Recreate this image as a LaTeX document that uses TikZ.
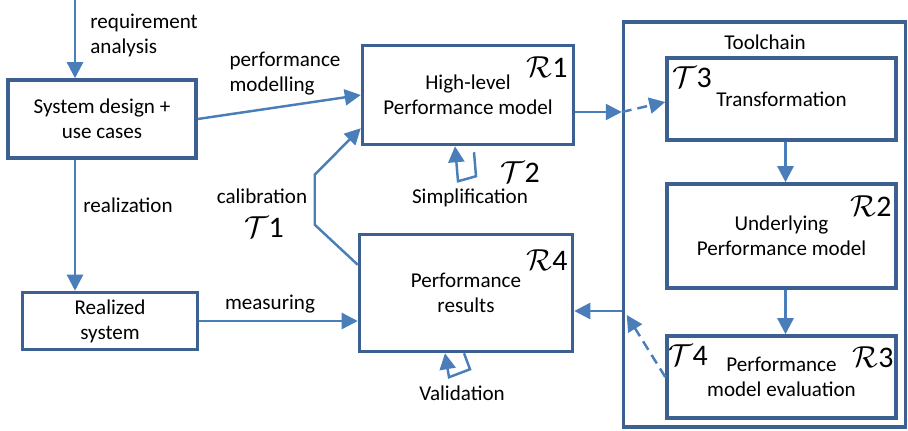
\documentclass[tikz,border=0pt]{standalone}
\usepackage{fontspec}
\setmainfont{Carlito}
\usetikzlibrary{arrows.meta}
\definecolor{boxblue}{RGB}{60,97,145}
\definecolor{lineblue}{RGB}{74,126,187}
\tikzstyle{block} = [rectangle, draw=boxblue, line width=2pt, align=center, text centered, inner sep=0pt]
\tikzstyle{arrow} = [draw=lineblue, line width=1.4pt, -{Triangle[length=3.2mm,width=3.2mm,fill=lineblue]}]
\tikzstyle{dasharrow} = [arrow, dash pattern=on 2mm off 1.2mm]
\tikzstyle{tag} = [font=\fontsize{17}{20}\selectfont, inner sep=0pt]
\tikzstyle{lbl} = [align=left, inner sep=0pt]

\begin{document}
\begin{tikzpicture}[x=0.2mm, y=-0.2mm, font=\fontsize{12}{14.2}\selectfont]
\useasboundingbox (0,0) rectangle (908,431);

\node (sys) [block, minimum width=37.6mm, minimum height=15.6mm] at (102,119) {System design +\\use cases};
\node (real) [block, minimum width=35mm, minimum height=11.4mm] at (110,321) {Realized\\system};
\node (hl) [block, minimum width=42.2mm, minimum height=19.8mm] at (468,95) {High-level\\Performance model};
\node (res) [block, minimum width=42.6mm, minimum height=23.4mm] at (466,293) {Performance\\results};

% toolchain
\node (tool) [block, minimum width=56.4mm, minimum height=81mm] at (764.5,224.5) {};
\node (toolname) at (765,42) {Toolchain};
\node (trans) [block, minimum width=45.8mm, minimum height=16.4mm] at (781.5,99) {Transformation};
\node (under) [block, minimum width=45.8mm, minimum height=20.8mm] at (781.5,236) {Underlying\\Performance model};
\node (eval) [block, minimum width=45.8mm, minimum height=16.4mm] at (781.5,377) {Performance\\model evaluation};

\node (r1) [tag] at (547,67) {$\mathcal{R}$1};
\node (t2) [tag] at (520,172) {$\mathcal{T}$2};
\node (r4) [tag] at (547,260) {$\mathcal{R}$4};
\node (t3) [tag] at (692,77) {$\mathcal{T}$3};
\node (r2) [tag] at (871,206) {$\mathcal{R}$2};
\node (t4) [tag] at (688,355) {$\mathcal{T}$4};
\node (r3) [tag] at (873,357) {$\mathcal{R}$3};
\node (t1) [tag] at (264,227) {$\mathcal{T}$1};

\node (reqlbl) [lbl, anchor=north west] at (90,14) {requirement\\analysis};
\node (perflbl) [lbl] at (285,74) {performance\\modelling};
\node (reallbl) at (128,205) {realization};
\node (measlbl) at (270,304) {measuring};
\node (callbl) [lbl] at (262,196) {calibration};
\node (simplbl) at (470,198) {Simplification};
\node (vallbl) at (462,393) {Validation};

\coordinate (in) at (75,0);
\draw [arrow] (in) -- (sys.north -| in);
\draw [arrow] (sys.east) -- (hl.west);
\draw [arrow] (sys.south -| in) -- (real.north -| in);
\draw [arrow] (real.east) -- (real.east -| res.west);
\draw [arrow] ([shift={(0,32)}]res.north west) -- ++(-43,-40) -- ++(0,-50) -- ([shift={(0,-18)}]hl.south west);

\draw [arrow] ([shift={(0,17)}]hl.east) coordinate (hlout) -- (hlout -| tool.west) coordinate (tin);
\draw [dasharrow] (tin) -- ([shift={(0,3)}]trans.west);
\draw [arrow] ([shift={(4,0)}]trans.south) -- ([shift={(4,0)}]under.north);
\draw [arrow] ([shift={(4,0)}]under.south) -- ([shift={(4,0)}]eval.north);

\coordinate (resin) at ([shift={(0,18)}]res.east);
\draw [arrow] (resin -| tool.west) -- (resin);
\draw [dasharrow] ([shift={(0,0)}]eval.west) -- ([shift={(5,4)}]resin -| tool.west);

% loops
\draw [arrow] ([shift={(6,6)}]hl.south) -- ++(2,24) -- ++(-18,5) -- ([shift={(-13,0)}]hl.south);
\draw [arrow] ([shift={(-2,0)}]res.south) -- ++(6,16) -- ++(-21,8) -- ([shift={(-21,0)}]res.south);

\end{tikzpicture}
\end{document}
